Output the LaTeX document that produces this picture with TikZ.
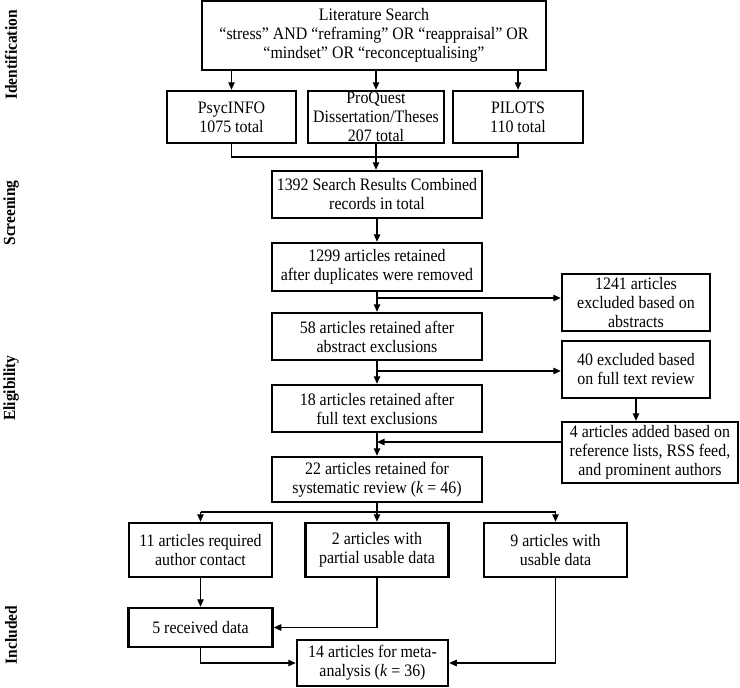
\documentclass[tikz,border=0pt]{standalone}
\usepackage{fontspec}
\setmainfont{Liberation Serif}[FakeStretch=0.91]
\usetikzlibrary{arrows.meta}
\begin{document}
\begin{tikzpicture}[x=1pt,y=-1pt,
  box/.style={draw, line width=2.5pt, inner sep=0pt, align=center,
    font=\fontsize{17.5}{19}\selectfont},
  conn/.style={line width=1.2pt},
  arr/.style={line width=1.2pt, -{Triangle[length=7.5pt,width=6.5pt]}},
  lab/.style={rotate=90, font=\fontsize{17}{19}\selectfont\bfseries}]
\useasboundingbox (0,0) rectangle (740,688);
% stage labels
\node[lab] (lid) at (11,55) {Identification};
\node[lab] (lsc) at (11,213) {Screening};
\node[lab] (lel) at (11,388) {Eligibility};
\node[lab] (lin) at (11,635) {Included};
% identification
\node[box, minimum width=344pt, minimum height=69pt] (lit) at (374,35.5)
  {Literature Search\\“stress” AND “reframing” OR “reappraisal” OR\\“mindset” OR “reconceptualising”};
\node[box, minimum width=129pt, minimum height=52pt] (psyc) at (231.5,117) {PsycINFO\\1075 total};
\node[box, minimum width=136pt, minimum height=52pt] (proq) at (376,117) {ProQuest\\Dissertation/Theses\\207 total};
\node[box, minimum width=130pt, minimum height=52pt] (pil) at (518,117) {PILOTS\\110 total};
% main column
\node[box, minimum width=210pt, minimum height=47pt] (s1392) at (377,194.5) {1392 Search Results Combined\\records in total};
\node[box, minimum width=210pt, minimum height=48pt] (s1299) at (377,267) {1299 articles retained\\after duplicates were removed};
\node[box, minimum width=210pt, minimum height=47pt] (s58) at (377,336.5) {58 articles retained after\\abstract exclusions};
\node[box, minimum width=210pt, minimum height=47pt] (s18) at (377,408.5) {18 articles retained after\\full text exclusions};
\node[box, minimum width=210pt, minimum height=45pt] (s22) at (377,479.5) {22 articles retained for\\systematic review (\textit{k} = 46)};
% right column
\node[box, minimum width=148pt, minimum height=57pt] (e1241) at (636,302.5) {1241 articles\\excluded based on\\abstracts};
\node[box, minimum width=148pt, minimum height=57pt] (e40) at (636,369.5) {40 excluded based\\on full text review};
\node[box, minimum width=176pt, minimum height=61pt] (add4) at (650,452.5) {4 articles added based on\\reference lists, RSS feed,\\and prominent authors};
% included
\node[box, minimum width=143pt, minimum height=54pt] (a11) at (200.5,550) {11 articles required\\author contact};
\node[box, minimum width=143pt, minimum height=54pt] (a2) at (377,550) {2 articles with\\partial usable data};
\node[box, minimum width=143pt, minimum height=54pt] (a9) at (555.5,550) {9 articles with\\usable data};
\node[box, minimum width=144pt, minimum height=39pt] (r5) at (200.5,627.5) {5 received data};
\node[box, minimum width=151pt, minimum height=46pt] (m14) at (372.5,663) {14 articles for meta-\\analysis (\textit{k} = 36)};
% coordinates
\coordinate (j) at (376,157);
\coordinate (b1) at (377,298);
\coordinate (b2) at (377,371);
\coordinate (b3) at (377,442);
\coordinate (d) at (377,512);
% connectors
\draw[arr] (lit.south -| psyc.north) -- (psyc.north);
\draw[arr] (lit.south -| proq.north) -- (proq.north);
\draw[arr] (lit.south -| pil.north) -- (pil.north);
\draw[conn] (psyc.south) |- (j) -| (pil.south);
\draw[arr] (proq.south) -- (proq.south |- s1392.north);
\draw[arr] (s1392.south) -- (s1299.north);
\draw[arr] (s1299.south) -- (s58.north);
\draw[arr] (b1) -- (b1 -| e1241.west);
\draw[arr] (s58.south) -- (s18.north);
\draw[arr] (b2) -- (b2 -| e40.west);
\draw[arr] (e40.south) -- (e40.south |- add4.north);
\draw[arr] (s18.south) -- (s22.north);
\draw[arr] (add4.west |- b3) -- (b3);
\draw[conn] (s22.south) -- (d);
\draw[conn] (a11.north |- d) -- (a9.north |- d);
\draw[arr] (a11.north |- d) -- (a11.north);
\draw[arr] (d) -- (a2.north);
\draw[arr] (a9.north |- d) -- (a9.north);
\draw[arr] (a11.south) -- (r5.north);
\draw[arr] (a2.south) |- (r5.east);
\draw[arr] (r5.south) |- (m14.west);
\draw[arr] (a9.south) |- (m14.east);
\end{tikzpicture}
\end{document}
